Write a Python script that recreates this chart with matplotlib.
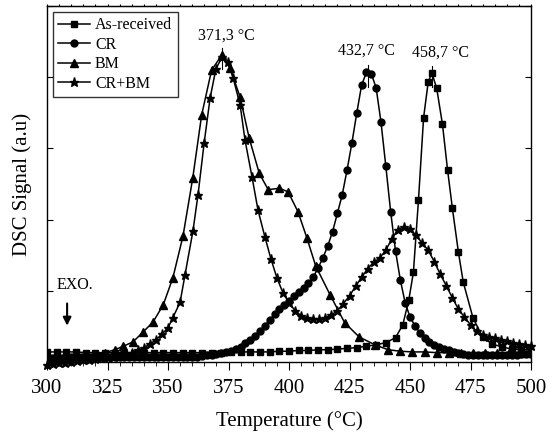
import numpy as np
import matplotlib
matplotlib.use('Agg')
import matplotlib.pyplot as plt
from matplotlib.ticker import MultipleLocator, NullFormatter

plt.rcParams['font.family'] = ['Liberation Serif', 'DejaVu Serif']

# As-received (squares)
t_ar = [300, 304, 308, 312, 316, 320, 324, 328, 332, 336, 340, 344, 348, 352, 356, 360,
        364, 368, 372, 376, 380, 384, 388, 392, 396, 400, 404, 408, 412, 416, 420, 424,
        428, 432, 436, 440, 444, 447, 449.5, 451.4, 453.5, 455.6, 457.5, 459, 461, 463.4,
        465.5, 467.5, 470, 472, 476, 480, 484, 488, 492, 496, 500]
s_ar = [0.14, 0.14, 0.14, 0.14, 0.13, 0.13, 0.13, 0.13, 0.13, 0.13, 0.13, 0.13, 0.13, 0.13, 0.13, 0.13,
        0.13, 0.13, 0.13, 0.14, 0.14, 0.14, 0.14, 0.14, 0.15, 0.15, 0.16, 0.16, 0.17, 0.17, 0.18, 0.19,
        0.20, 0.22, 0.24, 0.27, 0.34, 0.52, 0.87, 1.26, 2.28, 3.43, 3.93, 4.06, 3.85, 3.34,
        2.70, 2.16, 1.54, 1.12, 0.62, 0.35, 0.25, 0.21, 0.18, 0.17, 0.17]

# CR (circles), every 2 degC
t_cr = list(range(300, 501, 2))
s_cr = [0.06, 0.06, 0.06, 0.06, 0.06, 0.07, 0.07, 0.07, 0.07, 0.07, 0.07, 0.07, 0.07, 0.07, 0.07, 0.07,
        0.07, 0.07, 0.07, 0.07, 0.07, 0.07, 0.07, 0.07, 0.07, 0.07, 0.07, 0.07, 0.07, 0.07, 0.07,
        0.07, 0.08, 0.09, 0.10, 0.11, 0.13, 0.14, 0.15, 0.18, 0.21, 0.26, 0.31, 0.37, 0.44, 0.51,
        0.59, 0.67, 0.74, 0.80, 0.86, 0.92, 0.98, 1.04, 1.11, 1.19, 1.32, 1.46, 1.63, 1.83, 2.09,
        2.35, 2.70, 3.08, 3.50, 3.89, 4.07, 4.05, 3.85, 3.37, 2.75, 2.11, 1.56, 1.15, 0.83, 0.63,
        0.51, 0.41, 0.34, 0.28, 0.24, 0.21, 0.18, 0.16, 0.14, 0.12, 0.11, 0.10, 0.10, 0.09, 0.09,
        0.09, 0.09, 0.09, 0.10, 0.10, 0.10, 0.10, 0.11, 0.11, 0.11]

# BM (triangles)
t_bm = [300, 304, 308, 312, 316, 320, 324, 328, 331.5, 335.5, 339.7, 343.8, 348, 352, 356.2,
        360.2, 363.9, 368, 372.2, 375.6, 379.8, 383.5, 387.7, 391.4, 396, 399.6, 403.7, 407.4,
        411, 417, 423, 429, 435.5, 441, 446, 451, 456, 461, 466, 471, 476, 481, 486, 491, 496, 500]
s_bm = [0.06, 0.06, 0.07, 0.08, 0.09, 0.10, 0.13, 0.17, 0.22, 0.28, 0.42, 0.56, 0.80, 1.18, 1.77,
        2.58, 3.47, 4.10, 4.31, 4.13, 3.72, 3.15, 2.65, 2.42, 2.44, 2.39, 2.11, 1.74,
        1.35, 0.94, 0.55, 0.35, 0.24, 0.17, 0.15, 0.14, 0.14, 0.13, 0.13, 0.13, 0.13, 0.13, 0.13, 0.13, 0.13, 0.13]

# CR+BM (stars)
t_cb = [300, 302.5, 305, 307.5, 310, 312.5, 315, 317.5, 320, 322.5, 325, 327.5, 330, 332.5, 335,
        337.5, 340, 342.5, 345, 347.5, 350, 352, 355, 357, 360.3, 362.4, 364.9, 367.4, 369.8, 372.3,
        374.8, 376.9, 379.8, 381.8, 384.7, 387.2, 390, 392.5, 395, 397.5, 400, 402.5, 405, 407.5,
        410, 412.5, 415, 417.5, 420, 422.5, 425, 427.5, 430, 432.5, 435, 437.5, 440, 442.5, 445,
        447.5, 450, 452.5, 455, 457.5, 460, 462.5, 465, 467.5, 470, 472.5, 475, 477.5, 480, 482.5,
        485, 487.5, 490, 492.5, 495, 497.5, 500]
s_cb = [-0.04, -0.03, -0.02, -0.01, 0.00, 0.01, 0.02, 0.03, 0.04, 0.05, 0.06, 0.07, 0.08, 0.10, 0.13,
        0.16, 0.20, 0.25, 0.31, 0.39, 0.48, 0.62, 0.84, 1.22, 1.84, 2.35, 3.07, 3.71, 4.12, 4.28,
        4.21, 3.99, 3.61, 3.12, 2.60, 2.13, 1.76, 1.45, 1.18, 0.97, 0.83, 0.72, 0.65, 0.62,
        0.60, 0.60, 0.62, 0.66, 0.72, 0.82, 0.93, 1.06, 1.19, 1.31, 1.40, 1.46, 1.57, 1.73, 1.86,
        1.90, 1.87, 1.78, 1.67, 1.57, 1.41, 1.23, 1.07, 0.90, 0.74, 0.63, 0.52, 0.43, 0.38, 0.35,
        0.33, 0.31, 0.29, 0.27, 0.25, 0.24, 0.23]

peak_t = [372.3, 432.7, 458.9]
peak_s = [4.31, 4.07, 4.06]
peak_lbl = ['371,3 °C', '432,7 °C', '458,7 °C']
lbl_t = [374, 431.8, 462.4]
lbl_s = [4.58, 4.38, 4.34]

fig = plt.figure(figsize=(5.5, 4.36), dpi=100)
ax = fig.add_axes([0.0855, 0.170, 0.88, 0.816])

lw = 1.1
ax.plot(t_ar, s_ar, 'k-', marker='s', ms=4.2, lw=lw, label='As-received')
ax.plot(t_cr, s_cr, 'k-', marker='o', ms=5, lw=lw, label='CR')
ax.plot(t_bm, s_bm, 'k-', marker='^', ms=5.5, lw=lw, label='BM')
ax.plot(t_cb, s_cb, 'k-', marker='*', ms=6.5, lw=lw, label='CR+BM', clip_on=False)

for t, s in zip(peak_t, peak_s):
    ax.plot([t, t], [s + 0.1, s - 0.2], 'k-', lw=0.8)
for t, s, l in zip(lbl_t, lbl_s, peak_lbl):
    ax.text(t, s, l, ha='center', va='center', fontsize=11.5)

ax.text(304.1, 1.08, 'EXO.', ha='left', va='center', fontsize=11.5)
ax.annotate('', xy=(308.3, 0.47), xytext=(308.3, 0.86),
            arrowprops=dict(arrowstyle='-|>', color='k', lw=1.5, mutation_scale=12))

ax.set_xlim(300, 500)
ax.set_ylim(0, 5)
ax.xaxis.set_major_locator(MultipleLocator(25))
ax.xaxis.set_minor_locator(MultipleLocator(5))
ax.yaxis.set_major_locator(MultipleLocator(1))
ax.yaxis.set_major_formatter(NullFormatter())
ax.tick_params(axis='x', which='major', direction='out', length=6, labelsize=15, pad=6)
ax.tick_params(axis='x', which='minor', direction='out', length=3)
ax.tick_params(axis='y', which='major', direction='in', length=4, left=True, right=True)
for sp in ax.spines.values():
    sp.set_linewidth(1.0)

# tiny ticks along the top edge
top = ax.secondary_xaxis('top')
top.xaxis.set_major_locator(MultipleLocator(5))
top.xaxis.set_major_formatter(NullFormatter())
top.tick_params(direction='out', length=1.5, width=0.8)

ax.set_xlabel('Temperature (°C)', fontsize=15, labelpad=10)
ax.set_ylabel('DSC Signal (a.u)', fontsize=15, labelpad=7)

leg = ax.legend(loc='upper left', fontsize=11.5, frameon=True, fancybox=False,
                edgecolor='k', borderpad=0.35, labelspacing=0.22, handlelength=2.0,
                handletextpad=0.3, borderaxespad=0.35)
leg.get_frame().set_linewidth(1.0)

fig.savefig('out.png', dpi=100)
